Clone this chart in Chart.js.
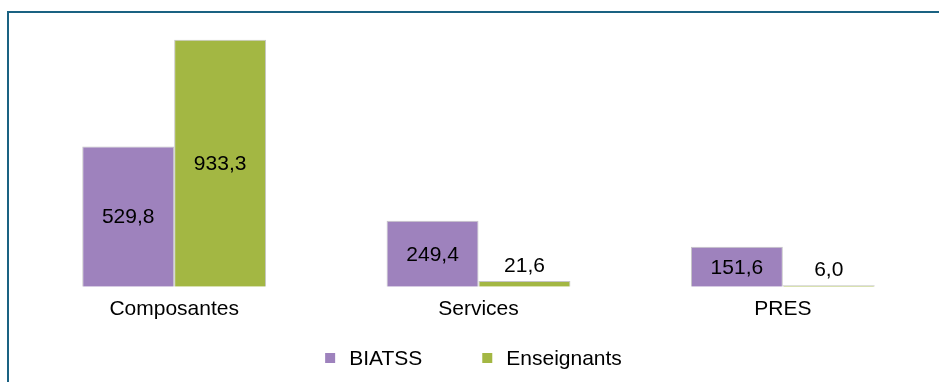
<!DOCTYPE html>
<html lang="fr">
<head>
<meta charset="utf-8">
<title>Effectifs BIATSS / Enseignants</title>
<script src="https://cdn.jsdelivr.net/npm/chart.js@4"></script>
<style>
    html, body { margin: 0; padding: 0; background: #fff; }
    #wrap { position: relative; width: 939px; height: 382px; overflow: hidden; }
    /* cadre bleu en haut et à gauche */
    #frame {
        position: absolute; left: 7px; top: 11px; right: 0; bottom: 0;
        border-top: 2px solid #1a6282; border-left: 2px solid #1a6282;
    }
    #chart { position: absolute; left: 0; top: 0; }
</style>
</head>
<body>
<div id="wrap">
    <div id="frame"></div>
    <canvas id="chart" width="939" height="382"></canvas>
</div>
<script>
/* ─── données ─── */
const categories = ['Composantes', 'Services', 'PRES'];
const biatss = [529.8, 249.4, 151.6];
const enseignants = [933.3, 21.6, 6.0];
const seriesNames = ['BIATSS', 'Enseignants'];
const seriesColors = ['#9e82bd', '#a3b743'];

const FONT = 'Liberation Sans, Arial, sans-serif';
const FONT_SIZE = 21;

const fmt = v => v.toFixed(1).replace('.', ',');

// valeurs écrites dans la barre, ou au-dessus si elle est trop basse
const valueLabels = {
    id: 'valueLabels',
    afterDatasetsDraw(chart) {
        const ctx = chart.ctx;
        ctx.save();
        ctx.font = FONT_SIZE + 'px ' + FONT;
        ctx.fillStyle = '#000';
        ctx.textAlign = 'center';
        ctx.textBaseline = 'middle';
        chart.data.datasets.forEach((ds, i) => {
            chart.getDatasetMeta(i).data.forEach((bar, j) => {
                const h = bar.base - bar.y;
                const y = h > 30 ? (bar.y + bar.base) / 2 : bar.y - 16;
                ctx.fillText(fmt(ds.data[j]), bar.x, y + 1);
            });
        });
        ctx.restore();
    }
};

// légende dessinée à la main (écart carré/texte plus large que celui de Chart.js)
const bottomLegend = {
    id: 'bottomLegend',
    afterDraw(chart) {
        const ctx = chart.ctx;
        const box = 10, gap = 14, spacing = 60, cy = 358;
        ctx.save();
        ctx.font = FONT_SIZE + 'px ' + FONT;
        ctx.textBaseline = 'middle';
        const widths = seriesNames.map(n => ctx.measureText(n).width);
        let total = widths.reduce((a, w) => a + box + gap + w, 0) + spacing * (seriesNames.length - 1);
        let x = 473.5 - total / 2;
        seriesNames.forEach((name, i) => {
            ctx.fillStyle = seriesColors[i];
            ctx.fillRect(x, cy - box / 2, box, box);
            ctx.fillStyle = '#000';
            ctx.fillText(name, x + box + gap, cy + 1);
            x += box + gap + widths[i] + spacing;
        });
        ctx.restore();
    }
};

new Chart(document.getElementById('chart'), {
    type: 'bar',
    data: {
        labels: categories,
        datasets: [
            { label: seriesNames[0], data: biatss, backgroundColor: seriesColors[0] },
            { label: seriesNames[1], data: enseignants, backgroundColor: seriesColors[1] }
        ]
    },
    options: {
        responsive: false,
        animation: false,
        devicePixelRatio: 1,
        layout: { padding: { left: 22, right: 4, top: 22, bottom: 50 } },
        datasets: {
            bar: {
                categoryPercentage: 0.604,
                barPercentage: 1,
                borderWidth: 1,
                borderColor: 'rgba(150,150,150,0.55)'
            }
        },
        plugins: {
            legend: { display: false },
            tooltip: { enabled: false }
        },
        scales: {
            x: {
                grid: { display: false, drawTicks: false },
                border: { display: false },
                ticks: { color: '#000', font: { family: FONT, size: FONT_SIZE }, padding: 10 }
            },
            y: {
                display: false,
                min: 0,
                max: 1000
            }
        }
    },
    plugins: [valueLabels, bottomLegend]
});
</script>
</body>
</html>
